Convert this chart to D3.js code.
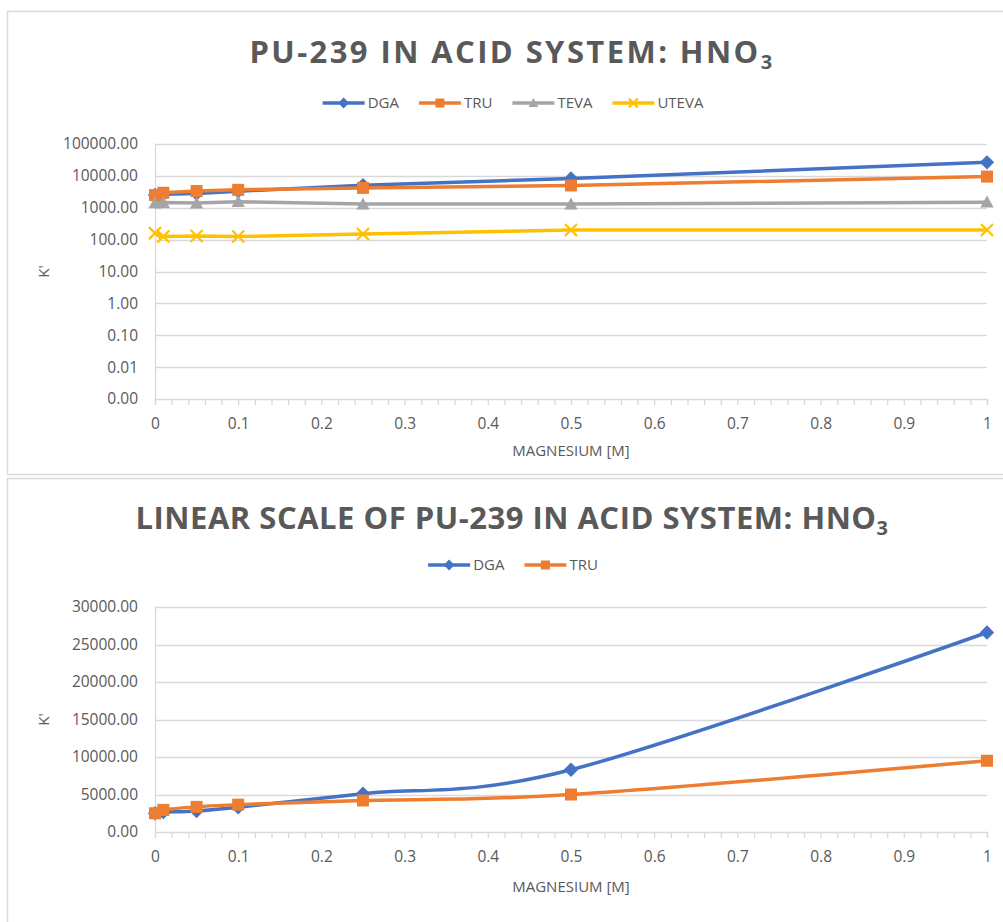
<!DOCTYPE html>
<html>
<head>
<meta charset="utf-8">
<script src="https://cdn.jsdelivr.net/npm/d3@7/dist/d3.min.js"></script>
<style>
	body { margin: 0; background: #fff; }
	svg { display: block; font-family: 'Open Sans', sans-serif; }
</style>
</head>
<body>
<svg id="chart" width="1003" height="922"></svg>
<script>
'use strict';

// Magnesium concentration [M]
var magnesium = [0, 0.01, 0.05, 0.1, 0.25, 0.5, 1];

// k' values
var dga   = [2500, 2650, 2800, 3300, 5100, 8300, 26600];
var tru   = [2500, 2950, 3350, 3650, 4200, 5000, 9500];
var teva  = [1400, 1450, 1400, 1550, 1300, 1300, 1500];
var uteva = [160, 125, 130, 125, 150, 200, 200];

var logTicks = [0.001, 0.01, 0.1, 1, 10, 100, 1000, 10000, 100000];
var linTicks = [0, 5000, 10000, 15000, 20000, 25000, 30000];

var COLORS = {
	DGA  : '#4472c4',
	TRU  : '#ed7d31',
	TEVA : '#a5a5a5',
	UTEVA: '#ffc000'
};
var SHAPES = { DGA: 'diamond', TRU: 'square', TEVA: 'triangle', UTEVA: 'x' };

var svg  = d3.select('#chart');
var TEXT = '#595959';
var GRID = '#d9d9d9';

function series(name, values) {
	return {
		name  : name,
		points: magnesium.map(function (m, i) { return { x: m, value: values[i] }; })
	};
}

function marker(sel, shape, r, color) {
	if (shape === 'square') {
		sel.append('rect')
			.attr('x', -r).attr('y', -r)
			.attr('width', 2 * r).attr('height', 2 * r)
			.attr('fill', color);
	} else if (shape === 'diamond') {
		sel.append('path')
			.attr('d', 'M0,' + (-r * 1.2) + 'L' + (r * 1.2) + ',0L0,' + (r * 1.2) + 'L' + (-r * 1.2) + ',0Z')
			.attr('fill', color);
	} else if (shape === 'triangle') {
		sel.append('path')
			.attr('d', 'M0,' + (-r * 1.1) + 'L' + (r * 1.1) + ',' + (r * 0.9) + 'L' + (-r * 1.1) + ',' + (r * 0.9) + 'Z')
			.attr('fill', color);
	} else {
		sel.append('path')
			.attr('d', 'M' + (-r) + ',' + (-r) + 'L' + r + ',' + r + 'M' + (-r) + ',' + r + 'L' + r + ',' + (-r))
			.attr('stroke', color)
			.attr('stroke-width', 2.2)
			.attr('fill', 'none');
	}
}

function title(g, cfg) {
	var t = g.append('text')
		.attr('x', 512)
		.attr('y', cfg.titleY)
		.attr('text-anchor', 'middle')
		.attr('fill', TEXT)
		.attr('font-size', 31)
		.attr('font-weight', 700);

	t.append('tspan').text(cfg.title);
	t.append('tspan').attr('font-size', 20).attr('dy', 6).text('3');

	// Excel spreads the title letters out
	var len = t.node().getComputedTextLength();
	var n   = cfg.title.length + 1;
	t.attr('letter-spacing', (cfg.titleWidth - len) / n);
}

function legend(g, cfg) {
	var lg = g.append('g');
	var x  = 0;

	cfg.series.forEach(function (s) {
		var item = lg.append('g').attr('transform', 'translate(' + x + ',0)');

		item.append('line')
			.attr('x1', 0).attr('x2', 42)
			.attr('stroke', COLORS[s.name])
			.attr('stroke-width', 3.5);

		marker(item.append('g').attr('transform', 'translate(21,0)'), SHAPES[s.name], 4.5, COLORS[s.name]);

		var txt = item.append('text')
			.attr('x', 45)
			.attr('dy', '0.36em')
			.attr('fill', TEXT)
			.attr('font-size', 15)
			.text(s.name);

		x += 45 + txt.node().getComputedTextLength() + 20;
	});

	var w = x - 20;
	lg.attr('transform', 'translate(' + (513 - w / 2) + ',' + cfg.legendY + ')');
}

function drawChart(cfg) {
	var g = svg.append('g');

	g.append('rect')
		.attr('x', 7.5).attr('y', cfg.boxY + 0.5)
		.attr('width', 1020).attr('height', cfg.boxH)
		.attr('fill', '#fff')
		.attr('stroke', GRID)
		.attr('stroke-width', 1.5);

	title(g, cfg);
	legend(g, cfg);

	var x = d3.scaleLinear().domain([0, 1]).range([155, 987]);
	var y = cfg.y;

	// gridlines
	g.append('g').selectAll('line').data(cfg.yTicks.slice(1))
		.enter().append('line')
			.attr('x1', 155).attr('x2', 987)
			.attr('y1', function (d) { return Math.round(y(d)) + 0.5; })
			.attr('y2', function (d) { return Math.round(y(d)) + 0.5; })
			.attr('stroke', GRID)
			.attr('stroke-width', 1.3);

	// y axis
	var yAxis = g.append('g')
		.attr('transform', 'translate(155,0)')
		.call(d3.axisLeft(y).tickValues(cfg.yTicks).tickSize(0).tickPadding(17).tickFormat(d3.format('.2f')))
		.attr('font-family', null);

	yAxis.select('.domain').attr('stroke', GRID).attr('stroke-width', 1.3);
	yAxis.selectAll('text').attr('fill', TEXT).attr('font-size', 15.5);

	// x axis, minor tick every 0.02, label every 0.1
	var bottom = y.range()[0];
	var xAxis = g.append('g')
		.attr('transform', 'translate(0,' + bottom + ')')
		.call(d3.axisBottom(x)
			.tickValues(d3.range(0, 51).map(function (i) { return i / 50; }))
			.tickSize(6)
			.tickPadding(13)
			.tickFormat(function (d) {
				var v = Math.round(d * 10) / 10;
				return Math.abs(v - d) < 1e-9 ? d3.format('~f')(v) : '';
			}))
		.attr('font-family', null);

	xAxis.select('.domain').attr('stroke', GRID).attr('stroke-width', 1.3);
	xAxis.selectAll('.tick line').attr('stroke', GRID).attr('stroke-width', 1.3);
	xAxis.selectAll('text').attr('fill', TEXT).attr('font-size', 15.5);

	g.append('text')
		.attr('x', 571)
		.attr('y', cfg.xTitleY)
		.attr('text-anchor', 'middle')
		.attr('fill', TEXT)
		.attr('font-size', 15)
		.text('MAGNESIUM [M]');

	g.append('text')
		.attr('transform', 'translate(49,' + ((y.range()[0] + y.range()[1]) / 2) + ') rotate(-90)')
		.attr('text-anchor', 'middle')
		.attr('fill', TEXT)
		.attr('font-size', 15)
		.text('K\'');

	// series
	var line = d3.line()
		.x(function (d) { return x(d.x); })
		.y(function (d) { return y(d.value); })
		.curve(cfg.curve);

	var s = g.append('g').selectAll('g.series').data(cfg.series)
		.enter().append('g').attr('class', 'series');

	s.append('path')
		.attr('d', function (d) { return line(d.points); })
		.attr('fill', 'none')
		.attr('stroke', function (d) { return COLORS[d.name]; })
		.attr('stroke-width', 3.5)
		.attr('stroke-linejoin', 'round');

	s.each(function (d) {
		var sg = d3.select(this);

		d.points.forEach(function (p) {
			var m = sg.append('g')
				.attr('transform', 'translate(' + x(p.x) + ',' + y(p.value) + ')');

			marker(m, SHAPES[d.name], 6, COLORS[d.name]);
		});
	});
}

drawChart({
	boxY      : 11,
	boxH      : 463,
	title     : 'PU-239 IN ACID SYSTEM: HNO',
	titleY    : 63,
	titleWidth: 525,
	legendY   : 103,
	xTitleY   : 456,
	y         : d3.scaleLog().domain([0.001, 100000]).range([399, 144]),
	yTicks    : logTicks,
	curve     : d3.curveLinear,
	series    : [series('DGA', dga), series('TRU', tru), series('TEVA', teva), series('UTEVA', uteva)]
});

drawChart({
	boxY      : 478,
	boxH      : 460,
	title     : 'LINEAR SCALE OF PU-239 IN ACID SYSTEM: HNO',
	titleY    : 529,
	titleWidth: 753,
	legendY   : 565,
	xTitleY   : 892,
	y         : d3.scaleLinear().domain([0, 30000]).range([832, 607]),
	yTicks    : linTicks,
	curve     : d3.curveCardinal.tension(0),
	series    : [series('DGA', dga), series('TRU', tru)]
});
</script>
</body>
</html>
